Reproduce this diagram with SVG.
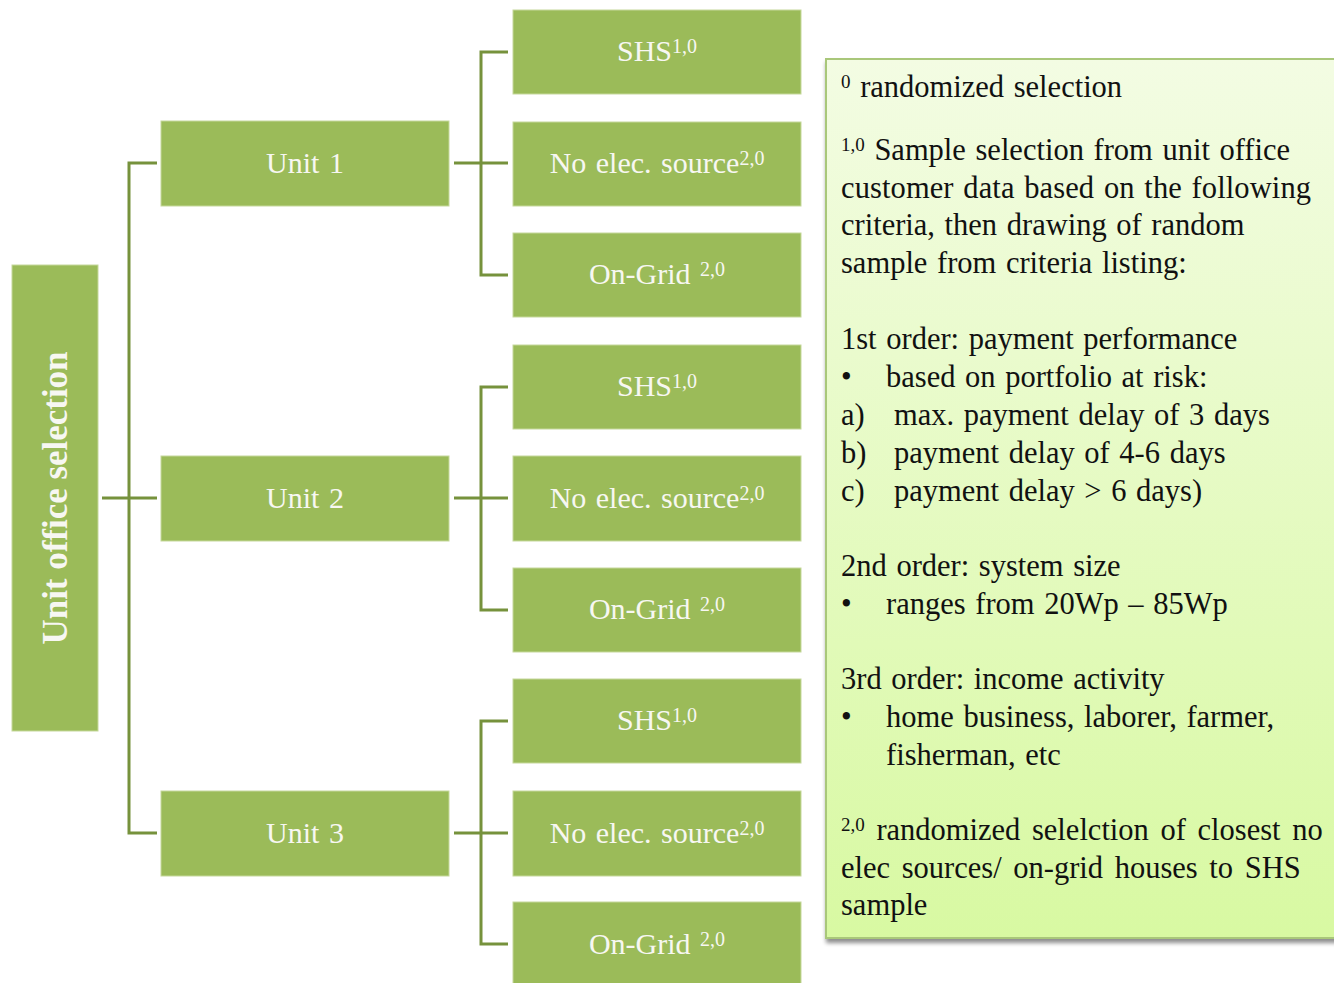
<svg xmlns="http://www.w3.org/2000/svg" width="1334" height="983" viewBox="0 0 1334 983">
<defs>
<linearGradient id="noteGrad" x1="0" y1="0" x2="0" y2="1">
<stop offset="0" stop-color="#F3FCE3"/>
<stop offset="1" stop-color="#D8F9A2"/>
</linearGradient>
<filter id="shadow" x="-5%" y="-5%" width="115%" height="115%">
<feGaussianBlur in="SourceAlpha" stdDeviation="2"/>
<feOffset dx="1" dy="4" result="b"/>
<feComponentTransfer><feFuncA type="linear" slope="0.45"/></feComponentTransfer>
<feMerge><feMergeNode/><feMergeNode in="SourceGraphic"/></feMerge>
</filter>
</defs>
<style>
.box{fill:#9BBB59;stroke:#C5D89B;stroke-width:1}
.lbl{font-family:"Liberation Serif","Times New Roman",serif;font-size:30px;fill:#F7F7F2;text-anchor:middle;word-spacing:2px}
.sup{font-size:20px}
.conn{fill:none;stroke:#76923C;stroke-width:3}
.note{font-family:"Liberation Serif","Times New Roman",serif;font-size:30.5px;fill:#111;word-spacing:2px}
.nsup{font-size:19px}
</style>
<rect width="1334" height="983" fill="#FFFFFF"/>

<g id="connectors">
<path class="conn" d="M102,498 H157 M157,163 H129 V833 H157"/>
<path class="conn" d="M454,163 H508 M508,52 H481 V275 H508"/>
<path class="conn" d="M454,498 H508 M508,387 H481 V610 H508"/>
<path class="conn" d="M454,833 H508 M508,721 H481 V944 H508"/>
</g>

<g id="root">
<rect class="box" x="12" y="265" width="86" height="466"/>
<text class="lbl" transform="translate(67,498) rotate(-90)" style="font-weight:bold;font-size:36px;word-spacing:0" textLength="293" lengthAdjust="spacingAndGlyphs">Unit office selection</text>
</g>

<g id="unit1"><rect class="box" x="161" y="121" width="288" height="85"/><text class="lbl" x="305" y="173">Unit 1</text></g>
<g id="unit2"><rect class="box" x="161" y="456" width="288" height="85"/><text class="lbl" x="305" y="508">Unit 2</text></g>
<g id="unit3"><rect class="box" x="161" y="791" width="288" height="85"/><text class="lbl" x="305" y="843">Unit 3</text></g>

<g id="u1-shs"><rect class="box" x="513" y="10" width="288" height="84"/><text class="lbl" x="657" y="61">SHS<tspan class="sup" dy="-8">1,0</tspan></text></g>
<g id="u1-noelec"><rect class="box" x="513" y="122" width="288" height="84"/><text class="lbl" x="657" y="173">No elec. source<tspan class="sup" dy="-8">2,0</tspan></text></g>
<g id="u1-ongrid"><rect class="box" x="513" y="233" width="288" height="84"/><text class="lbl" x="657" y="284">On-Grid <tspan class="sup" dy="-8">2,0</tspan></text></g>

<g id="u2-shs"><rect class="box" x="513" y="345" width="288" height="84"/><text class="lbl" x="657" y="396">SHS<tspan class="sup" dy="-8">1,0</tspan></text></g>
<g id="u2-noelec"><rect class="box" x="513" y="456" width="288" height="85"/><text class="lbl" x="657" y="508">No elec. source<tspan class="sup" dy="-8">2,0</tspan></text></g>
<g id="u2-ongrid"><rect class="box" x="513" y="568" width="288" height="84"/><text class="lbl" x="657" y="619">On-Grid <tspan class="sup" dy="-8">2,0</tspan></text></g>

<g id="u3-shs"><rect class="box" x="513" y="679" width="288" height="84"/><text class="lbl" x="657" y="730">SHS<tspan class="sup" dy="-8">1,0</tspan></text></g>
<g id="u3-noelec"><rect class="box" x="513" y="791" width="288" height="85"/><text class="lbl" x="657" y="843">No elec. source<tspan class="sup" dy="-8">2,0</tspan></text></g>
<g id="u3-ongrid"><rect class="box" x="513" y="902" width="288" height="90"/><text class="lbl" x="657" y="954">On-Grid <tspan class="sup" dy="-8">2,0</tspan></text></g>

<g id="note">
<rect x="826" y="59" width="520" height="879" fill="url(#noteGrad)" stroke="#A9C77A" stroke-width="2" filter="url(#shadow)"/>
<text class="note" x="841" y="97"><tspan class="nsup" dy="-9">0</tspan><tspan dy="9"> randomized selection</tspan></text>
<text class="note" x="841" y="160"><tspan class="nsup" dy="-9">1,0</tspan><tspan dy="9"> Sample selection from unit office</tspan></text>
<text class="note" x="841" y="198" textLength="470" lengthAdjust="spacing">customer data based on the following</text>
<text class="note" x="841" y="235">criteria, then drawing of random</text>
<text class="note" x="841" y="273">sample from criteria listing:</text>
<text class="note" x="841" y="349">1st order: payment performance</text>
<text class="note" x="841" y="387">•</text><text class="note" x="886" y="387">based on portfolio at risk:</text>
<text class="note" x="841" y="425">a)</text><text class="note" x="894" y="425">max. payment delay of 3 days</text>
<text class="note" x="841" y="463">b)</text><text class="note" x="894" y="463">payment delay of 4-6 days</text>
<text class="note" x="841" y="501">c)</text><text class="note" x="894" y="501">payment delay &gt; 6 days)</text>
<text class="note" x="841" y="576">2nd order: system size</text>
<text class="note" x="841" y="614">•</text><text class="note" x="886" y="614">ranges from 20Wp – 85Wp</text>
<text class="note" x="841" y="689">3rd order: income activity</text>
<text class="note" x="841" y="727">•</text><text class="note" x="886" y="727">home business, laborer, farmer,</text>
<text class="note" x="886" y="765">fisherman, etc</text>
<text class="note" x="841" y="840" style="word-spacing:4px"><tspan class="nsup" dy="-9">2,0</tspan><tspan dy="9"> randomized selelction of closest no</tspan></text>
<text class="note" x="841" y="878" style="word-spacing:4px">elec sources/ on-grid houses to SHS</text>
<text class="note" x="841" y="915">sample</text>
</g>
</svg>
